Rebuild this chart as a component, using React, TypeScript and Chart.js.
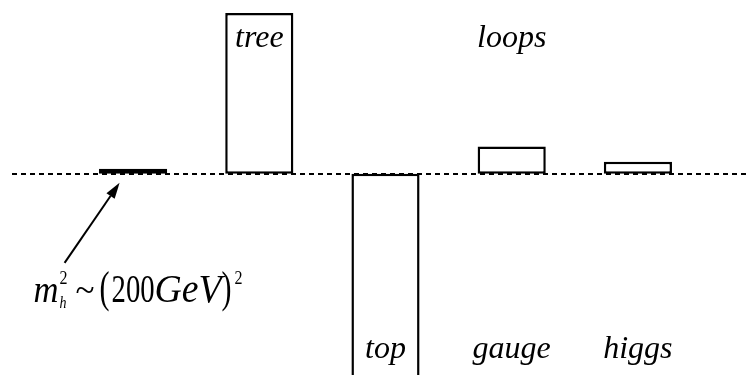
import React, { useEffect, useRef } from 'react';
import { Chart, registerables } from 'chart.js';

Chart.register(...registerables);

// ---- data ----
const categories = ['m_h', 'tree', 'top', 'gauge', 'higgs'];
const contributions = [0.32, 10, -14, 1.7, 0.75];
const upperLabels = ['', 'tree', '', 'loops', ''];
const lowerLabels = ['', '', 'top', 'gauge', 'higgs'];
const yMin = -12.5;
const yMax = 10.8;

const SERIF = '"Liberation Serif", "Times New Roman", serif';

function fit(ctx: CanvasRenderingContext2D, text: string, font: string, x: number, yb: number, w: number) {
  ctx.font = font;
  const m = ctx.measureText(text).width || 1;
  ctx.save();
  ctx.translate(x, yb);
  ctx.scale(w / m, 1);
  ctx.fillText(text, 0, 0);
  ctx.restore();
}

const annotations = {
  id: 'annotations',
  beforeDatasetsDraw(chart: any) {
    const ctx = chart.ctx as CanvasRenderingContext2D;
    const y0 = Math.round(chart.scales.y.getPixelForValue(0));
    ctx.save();
    ctx.strokeStyle = '#000';
    ctx.lineWidth = 2;
    ctx.setLineDash([5, 4]);
    ctx.beginPath();
    ctx.moveTo(12, y0);
    ctx.lineTo(chart.width, y0);
    ctx.stroke();
    ctx.restore();
  },
  afterDatasetsDraw(chart: any) {
    const ctx = chart.ctx as CanvasRenderingContext2D;
    const xs = chart.scales.x;
    const y0 = chart.scales.y.getPixelForValue(0);
    ctx.save();
    ctx.fillStyle = '#000';
    ctx.textBaseline = 'alphabetic';
    ctx.textAlign = 'center';
    ctx.font = `italic 32px ${SERIF}`;
    upperLabels.forEach((t, i) => {
      if (t) ctx.fillText(t, xs.getPixelForValue(i), 47);
    });
    lowerLabels.forEach((t, i) => {
      if (t) ctx.fillText(t, xs.getPixelForValue(i), 358);
    });

    // formula and arrow, anchored to the first bar
    const ox = xs.getPixelForValue(0) - 131.5;
    const oy = y0 - 174;
    ctx.textAlign = 'left';
    fit(ctx, 'm', `italic 38px ${SERIF}`, 32 + ox, 302 + oy, 25);
    fit(ctx, '2', `18px ${SERIF}`, 58 + ox, 284 + oy, 8);
    fit(ctx, 'h', `italic 16px ${SERIF}`, 58 + ox, 308 + oy, 7);
    fit(ctx, '~', `36px ${SERIF}`, 74 + ox, 302 + oy, 19);
    fit(ctx, '(', `44px ${SERIF}`, 98 + ox, 302 + oy, 10);
    fit(ctx, '200', `40px ${SERIF}`, 110 + ox, 302 + oy, 43);
    fit(ctx, 'GeV', `italic 40px ${SERIF}`, 153 + ox, 302 + oy, 67);
    fit(ctx, ')', `44px ${SERIF}`, 220 + ox, 302 + oy, 10);
    fit(ctx, '2', `18px ${SERIF}`, 233 + ox, 284 + oy, 8);

    const tx = 63 + ox, ty = 263 + oy;
    const hx = 118 + ox, hy = 183 + oy;
    const ang = Math.atan2(hy - ty, hx - tx);
    const hl = 16, hw = 5;
    const bx = hx - hl * Math.cos(ang), by = hy - hl * Math.sin(ang);
    ctx.strokeStyle = '#000';
    ctx.lineWidth = 2;
    ctx.beginPath();
    ctx.moveTo(tx, ty);
    ctx.lineTo(bx, by);
    ctx.stroke();
    ctx.beginPath();
    ctx.moveTo(hx, hy);
    ctx.lineTo(bx + hw * Math.sin(ang), by - hw * Math.cos(ang));
    ctx.lineTo(bx - hw * Math.sin(ang), by + hw * Math.cos(ang));
    ctx.closePath();
    ctx.fill();
    ctx.restore();
  },
};

export default function App() {
  const ref = useRef<HTMLCanvasElement | null>(null);
  useEffect(() => {
    if (!ref.current) return;
    const chart = new Chart(ref.current, {
      type: 'bar',
      data: {
        labels: categories,
        datasets: [
          {
            data: contributions,
            backgroundColor: '#ffffff',
            borderColor: '#000000',
            borderWidth: 2.5,
            borderSkipped: false,
            barPercentage: 0.54,
            categoryPercentage: 1,
          },
        ],
      },
      options: {
        animation: false,
        responsive: false,
        maintainAspectRatio: false,
        layout: { padding: { left: 70, right: 47, top: 0, bottom: 0 } },
        plugins: { legend: { display: false }, tooltip: { enabled: false } },
        scales: {
          x: { display: false },
          y: { display: false, min: yMin, max: yMax },
        },
      },
      plugins: [annotations],
    });
    return () => chart.destroy();
  }, []);
  return (
    <div style={{ position: 'fixed', left: 0, top: 0, width: 748, height: 375, background: '#fff' }}>
      <canvas ref={ref} width={748} height={375} style={{ display: 'block' }} />
    </div>
  );
}
